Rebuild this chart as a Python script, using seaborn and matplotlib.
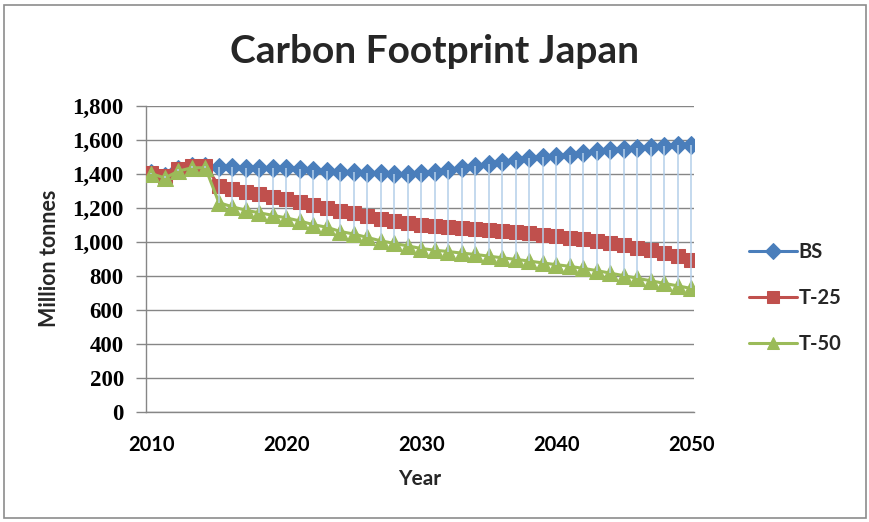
import numpy as np
import pandas as pd
import matplotlib
matplotlib.use("Agg")
import matplotlib.pyplot as plt
from matplotlib.patches import Rectangle
import seaborn as sns

# ---- data -------------------------------------------------------------
years = list(range(2010, 2051))

bs = [1405, 1385, 1425, 1445, 1445,
      1440, 1438, 1436, 1434, 1435, 1436, 1430, 1422, 1418, 1412,
      1410, 1405, 1402, 1398, 1400, 1404, 1410, 1420, 1435, 1448,
      1460, 1470, 1482, 1492, 1500, 1505, 1512, 1522, 1532, 1540,
      1545, 1550, 1556, 1562, 1566, 1570]

t25 = [1405, 1385, 1425, 1445, 1445,
       1330, 1310, 1295, 1278, 1262, 1250, 1235, 1218, 1200, 1183,
       1170, 1152, 1135, 1122, 1110, 1100, 1093, 1087, 1080, 1075,
       1070, 1063, 1057, 1049, 1040, 1032, 1024, 1014, 1002, 990,
       978, 965, 950, 935, 915, 895]

t50 = [1400, 1375, 1415, 1435, 1435,
       1230, 1205, 1185, 1170, 1155, 1140, 1122, 1100, 1085, 1060,
       1045, 1025, 1005, 990, 975, 960, 950, 942, 933, 925,
       915, 905, 896, 886, 875, 865, 855, 843, 830, 815,
       800, 785, 770, 755, 740, 725]

series_names = ["BS", "T-25", "T-50"]
y_ticks = [0, 200, 400, 600, 800, 1000, 1200, 1400, 1600, 1800]
x_ticks = [2010, 2020, 2030, 2040, 2050]

# ---- styling ----------------------------------------------------------
sns.set_theme(style="white")
plt.rcParams["font.family"] = ["Lato", "DejaVu Sans"]

colors = {"BS": "#4a7ebb", "T-25": "#c0504d", "T-50": "#9bbb59"}
markers = {"BS": "D", "T-25": "s", "T-50": "^"}
msizes = {"BS": 9.5, "T-25": 10.5, "T-50": 11}
grid_col = "#868686"

df = pd.DataFrame({
    "Year": years * 3,
    "Value": bs + t25 + t50,
    "Series": sum([[n] * len(years) for n in series_names], []),
})

fig = plt.figure(figsize=(8.69, 5.22), dpi=100)
ax = fig.add_axes([0.168, 0.2113, 0.6306, 0.5862])

for name in series_names:
    sub = df[df["Series"] == name]
    sns.lineplot(data=sub, x="Year", y="Value", ax=ax, color=colors[name],
                 marker=markers[name], markersize=msizes[name],
                 markeredgecolor=colors[name], linewidth=2.2,
                 label=name, zorder=3)

# high-low lines joining the scenarios in each year
wide = df.pivot(index="Year", columns="Series", values="Value")
ax.vlines(wide.index, wide.min(axis=1), wide.max(axis=1),
          color="#b4cfea", linewidth=1.1, zorder=4)

ax.set_xlim(2009.6, 2050.2)
ax.set_ylim(0, 1800)
ax.set_yticks(y_ticks)
ax.set_yticklabels([f"{v:,}" for v in y_ticks],
                   family="Liberation Serif", fontweight="bold", fontsize=16.5)
ax.set_xticks(x_ticks)
ax.set_xticklabels([str(v) for v in x_ticks], fontweight="bold", fontsize=14.5)

ax.yaxis.grid(True, color=grid_col, linewidth=1)
ax.xaxis.grid(False)
for side in ["top", "right"]:
    ax.spines[side].set_visible(False)
for side in ["left", "bottom"]:
    ax.spines[side].set_color(grid_col)
    ax.spines[side].set_linewidth(1)
ax.tick_params(axis="y", which="major", left=True, length=7, width=1,
               color=grid_col, pad=9, labelcolor="black")
ax.tick_params(axis="x", which="major", bottom=False, length=0, pad=17,
               labelcolor="black")

ax.set_xlabel("Year", fontsize=15, fontweight="bold", labelpad=10)
ax.set_ylabel("Million tonnes", fontsize=15.5, fontweight="bold", labelpad=9)

leg = ax.legend(loc="center left", frameon=False,
                handlelength=2.4, handletextpad=0.05, labelspacing=1.3,
                prop={"weight": "bold", "size": 14.5})
for h in leg.legend_handles:
    h.set_markersize(8.5)
leg.set_bbox_to_anchor((731 / 869, 1 - 298 / 522), transform=fig.transFigure)

fig.text(435 / 869, 1 - 63 / 522, "Carbon Footprint Japan", ha="center",
         va="baseline", fontsize=28, fontweight="bold")

# outer chart frame
fig.patches.append(Rectangle((4 / 869, 4 / 522), 862 / 869, 513 / 522,
                             transform=fig.transFigure, fill=False,
                             edgecolor="#8c8c8c", linewidth=1.2))

fig.savefig("out.png", dpi=100)
